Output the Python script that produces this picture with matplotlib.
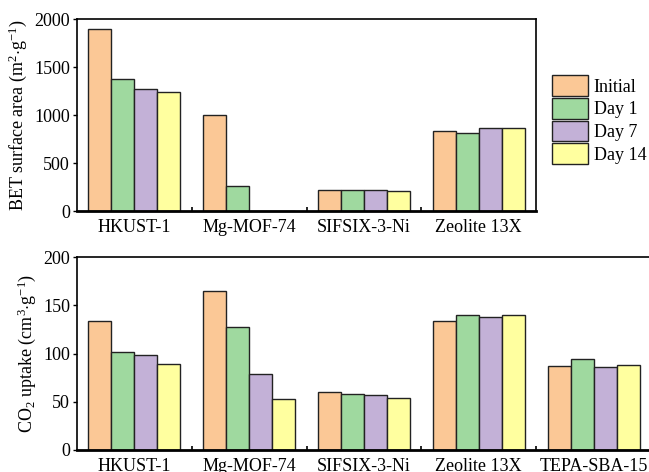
import matplotlib
matplotlib.use("Agg")
import matplotlib.pyplot as plt
import numpy as np

plt.rcParams['font.family'] = ['Liberation Serif', 'DejaVu Serif']
plt.rcParams['mathtext.fontset'] = 'custom'
plt.rcParams['mathtext.rm'] = 'Liberation Serif'
plt.rcParams['mathtext.it'] = 'Liberation Serif:italic'

series = ["Initial", "Day 1", "Day 7", "Day 14"]
colors = ["#FBC896", "#9FD99F", "#C3B1D7", "#FFFF9F"]

bet_categories = ["HKUST-1", "Mg-MOF-74", "SIFSIX-3-Ni", "Zeolite 13X"]
bet_initial = [1900, 1000, 220, 830]
bet_day1 = [1370, 258, 220, 812]
bet_day7 = [1270, 0, 215, 865]
bet_day14 = [1240, 0, 205, 865]

co2_categories = ["HKUST-1", "Mg-MOF-74", "SIFSIX-3-Ni", "Zeolite 13X", "TEPA-SBA-15"]
co2_initial = [134, 165, 60, 134, 87]
co2_day1 = [102, 127, 58, 140, 94]
co2_day7 = [98, 79, 57, 138, 86]
co2_day14 = [89, 53, 54, 140, 88]

fig = plt.figure(figsize=(6.49, 4.72), dpi=100)
W, H = 649, 472
px_per_cat = 114.8
ax1 = fig.add_axes([77 / W, 1 - 211 / H, 4 * px_per_cat / W, 192 / H])
ax2 = fig.add_axes([77 / W, 1 - 450 / H, 5 * px_per_cat / W, 193 / H])


def draw(ax, cats, data, ymax, ystep, ylabel):
    x = np.arange(len(cats))
    w = 0.2
    handles = []
    for i, (vals, c, name) in enumerate(zip(data, colors, series)):
        b = ax.bar(x - 0.3 + i * w, vals, w, color=c, edgecolor="#222222",
                   linewidth=1.0, label=name, zorder=2)
        handles.append(b)
    ax.set_xlim(-0.5, len(cats) - 0.5)
    ax.set_ylim(0, ymax)
    ax.set_yticks(np.arange(0, ymax + 1, ystep))
    ax.set_xticks(x)
    ax.set_xticklabels(cats, fontsize=13)
    ax.set_xticks(np.arange(0.5, len(cats) - 0.5, 1), minor=True)
    ax.tick_params(axis="x", which="major", length=0, pad=6)
    ax.tick_params(axis="x", which="minor", direction="in", length=3, width=1.2)
    ax.tick_params(axis="y", which="major", direction="out", length=3, width=1, labelsize=13, pad=2)
    for s in ["left", "right", "top"]:
        ax.spines[s].set_linewidth(1.2)
    ax.spines["bottom"].set_linewidth(2)
    ax.set_ylabel(ylabel, fontsize=13, labelpad=4)
    return handles


h = draw(ax1, bet_categories, [bet_initial, bet_day1, bet_day7, bet_day14], 2000, 500,
         r"BET surface area (m$^{2}$$\cdot$g$^{-1}$)")
draw(ax2, co2_categories, [co2_initial, co2_day1, co2_day7, co2_day14], 200, 50,
     r"CO$_{2}$ uptake (cm$^{3}$$\cdot$g$^{-1}$)")

fig.legend(handles=h, labels=series, loc="upper left", bbox_to_anchor=(545 / W, 1 - 68 / H),
           frameon=False, fontsize=13, handlelength=2.0, handleheight=1.4,
           handletextpad=0.3, labelspacing=0.1, borderaxespad=0)

fig.savefig("out.png", dpi=100)
